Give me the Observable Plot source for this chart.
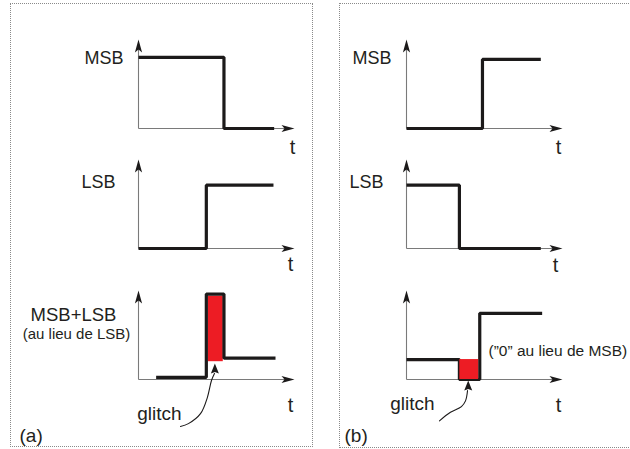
<!DOCTYPE html>
<html><head><meta charset="utf-8">
<script src="https://cdn.jsdelivr.net/npm/d3@7"></script>
<script src="https://cdn.jsdelivr.net/npm/@observablehq/plot@0.6"></script>
<style>
body{margin:0;background:#fff;}
#fig{position:relative;width:630px;height:449px;overflow:hidden;background:#fff;}
.panel{position:absolute;border:1px dotted #8a8a8a;box-sizing:border-box;}
.sub{position:absolute;width:400px;height:220px;}
.sub svg{overflow:visible;background:transparent;max-width:none !important;width:400px;height:220px;}
</style></head><body><div id="fig"></div>
<script>
// ---------- data (time units, level units) ----------
const axisT = 11.5;            // length of time axis
const axisV = 1.25;            // height of level axis

// panel (a)
const msbA_t = [0, 6.3, 10.0];        const msbA_v = [1.0, 0, 0];
const lsbA_t = [0, 5.0, 9.95];        const lsbA_v = [0, 0.89, 0.89];
const sumA_t = [1.3, 5.0, 6.3, 10.1]; const sumA_v = [0.03, 1.2, 0.3, 0.3];
const glitchA = [{t1: 5.15, t2: 6.25, v1: 0.25, v2: 1.17}];
const pointerA_t = [3.09, 3.68, 4.57, 5.08, 5.38, 5.60];
const pointerA_v = [-0.66, -0.62, -0.48, -0.25, -0.014, 0.085];
const pointerTipA = [{t: 5.63, v: 0.225}];

// panel (b)
const msbB_t = [0, 5.6, 9.9];         const msbB_v = [0, 0.97, 0.97];
const lsbB_t = [0, 3.9, 9.9];         const lsbB_v = [0.89, 0, 0];
const sumB_t = [0, 3.9, 5.4, 10.0];   const sumB_v = [0.28, 0, 0.93, 0.93];
const glitchB = [{t1: 3.93, t2: 5.32, v1: 0, v2: 0.28}];
const pointerB_t = [2.43, 3.24, 4.05, 4.35, 4.50];
const pointerB_v = [-0.58, -0.46, -0.38, -0.30, -0.155];
const pointerTipB = [{t: 4.55, v: -0.014}];

// text
const labelsA = ["MSB", "LSB", "MSB+LSB"];
const labelsB = ["MSB", "LSB"];
const noteA = "(au lieu de LSB)";
const noteB = "(\u201D0\u201D au lieu de MSB)";
const timeLabel = "t";
const glitchLabel = "glitch";
const panelLabels = ["(a)", "(b)"];

// ---------- drawing ----------
const FONT = "Liberation Sans, Arial, Helvetica, sans-serif";
const INK = "#1c1a1a";
const RED = "#ed1c24";
const AXIS = "#7a7a7a";

const arrowUp = {draw(ctx) { ctx.moveTo(0, 0); ctx.lineTo(3.6, 13); ctx.lineTo(0, 10); ctx.lineTo(-3.6, 13); ctx.closePath(); }};
const arrowRight = {draw(ctx) { ctx.moveTo(0, 0); ctx.lineTo(-13, -3.6); ctx.lineTo(-10, 0); ctx.lineTo(-13, 3.6); ctx.closePath(); }};
const pointerHead = {draw(ctx) { ctx.moveTo(0, 0); ctx.lineTo(4, 10); ctx.lineTo(0, 8.5); ctx.lineTo(-4, 10); ctx.closePath(); }};

const zip = (ts, vs) => ts.map((t, i) => ({t, v: vs[i]}));

const fig = document.getElementById("fig");
function panel(left, top, w, h) {
  const d = document.createElement("div");
  d.className = "panel";
  Object.assign(d.style, {left: left + "px", top: top + "px", width: w + "px", height: h + "px"});
  fig.appendChild(d);
}
panel(10, 3, 303, 444);
panel(339, 3, 300, 445);

const ML = 140, MT = 30, XW = 156, YH = 89;

function txt(s, opts) {
  return Plot.text([s], {x: opts.t ?? 0, y: opts.v ?? 0, text: d => d, dx: opts.dx, dy: opts.dy,
    textAnchor: opts.anchor || "middle", fontSize: opts.size, fontFamily: FONT, fill: "#231f20"});
}

function subplot(ox, oy, signal, extra) {
  const red = extra.glitch ? [Plot.rect(extra.glitch, {x1: "t1", x2: "t2", y1: "v1", y2: "v2", fill: RED})] : [];
  const marks = [
    ...(extra.redOnTop ? [] : red),
    Plot.link([{t1: 0, v1: 0, t2: 0, v2: axisV - 0.05}], {x1: "t1", y1: "v1", x2: "t2", y2: "v2", stroke: AXIS, strokeWidth: 1.1}),
    Plot.link([{t1: 0, v1: 0, t2: axisT - 0.3, v2: 0}], {x1: "t1", y1: "v1", x2: "t2", y2: "v2", stroke: AXIS, strokeWidth: 1.1}),
    Plot.dot([{t: 0, v: axisV}], {x: "t", y: "v", symbol: arrowUp, fill: INK, stroke: "none"}),
    Plot.dot([{t: axisT, v: 0}], {x: "t", y: "v", symbol: arrowRight, fill: INK, stroke: "none"}),
    Plot.line(signal, {x: "t", y: "v", curve: "step-after", stroke: INK, strokeWidth: 3.2, strokeLinejoin: "miter", strokeLinecap: "butt"}),
    ...(extra.redOnTop ? red : []),
    ...(extra.pointer ? [
      Plot.line(extra.pointer, {x: "t", y: "v", curve: "catmull-rom", stroke: INK, strokeWidth: 1.1}),
      Plot.dot(extra.tip, {x: "t", y: "v", symbol: pointerHead, fill: INK, stroke: "none"})
    ] : []),
    ...extra.texts
  ];
  const svg = Plot.plot({
    width: 400, height: 220,
    x: {domain: [0, axisT], range: [ML, ML + XW], axis: null},
    y: {domain: [0, axisV], range: [MT + YH, MT], axis: null},
    style: {background: "transparent", overflow: "visible", maxWidth: "none"},
    marks
  });
  const d = document.createElement("div");
  d.className = "sub";
  d.style.left = (ox - ML) + "px";
  d.style.top = (oy - MT - YH) + "px";
  d.appendChild(svg);
  fig.appendChild(d);
}

// panel (a)
subplot(138, 128, zip(msbA_t, msbA_v), {texts: [
  txt(labelsA[0], {t: 0, v: msbA_v[0], dx: -15, dy: 1, anchor: "end", size: 18}),
  txt(timeLabel, {t: axisT, v: 0, dx: -2, dy: 19, size: 20})
]});
subplot(138, 248, zip(lsbA_t, lsbA_v), {texts: [
  txt(labelsA[1], {t: 0, v: lsbA_v[1], dx: -23, dy: -3, anchor: "end", size: 18}),
  txt(timeLabel, {t: axisT, v: 0, dx: -4, dy: 16, size: 20})
]});
subplot(138, 379, zip(sumA_t, sumA_v), {
  glitch: glitchA,
  pointer: zip(pointerA_t, pointerA_v), tip: pointerTipA,
  texts: [
    txt(labelsA[2], {dx: -65, dy: -64, size: 18.5}),
    txt(noteA, {dx: -62, dy: -45, size: 15}),
    txt(timeLabel, {t: axisT, v: 0, dx: -4, dy: 26, size: 20}),
    txt(glitchLabel, {t: pointerA_t[0], v: pointerA_v[0], dx: -21, dy: -13, size: 19}),
    txt(panelLabels[0], {dx: -119, dy: 56, anchor: "start", size: 19})
  ]});

// panel (b)
subplot(406, 128, zip(msbB_t, msbB_v), {texts: [
  txt(labelsB[0], {t: 0, v: msbB_v[1], dx: -15, dy: -1, anchor: "end", size: 18}),
  txt(timeLabel, {t: axisT, v: 0, dx: -4, dy: 19, size: 20})
]});
subplot(406, 248, zip(lsbB_t, lsbB_v), {texts: [
  txt(labelsB[1], {t: 0, v: lsbB_v[0], dx: -23, dy: -3, anchor: "end", size: 18}),
  txt(timeLabel, {t: axisT, v: 0, dx: -7, dy: 17, size: 20})
]});
subplot(406, 379, zip(sumB_t, sumB_v), {
  glitch: glitchB, redOnTop: true,
  pointer: zip(pointerB_t, pointerB_v), tip: pointerTipB,
  texts: [
    txt(noteB, {dx: 82, dy: -28, anchor: "start", size: 15.5}),
    txt(timeLabel, {t: axisT, v: 0, dx: -4, dy: 26, size: 20}),
    txt(glitchLabel, {t: pointerB_t[0], v: pointerB_v[0], dx: -27, dy: -17, size: 19}),
    txt(panelLabels[1], {dx: -62, dy: 56, anchor: "start", size: 19})
  ]});
</script></body></html>
